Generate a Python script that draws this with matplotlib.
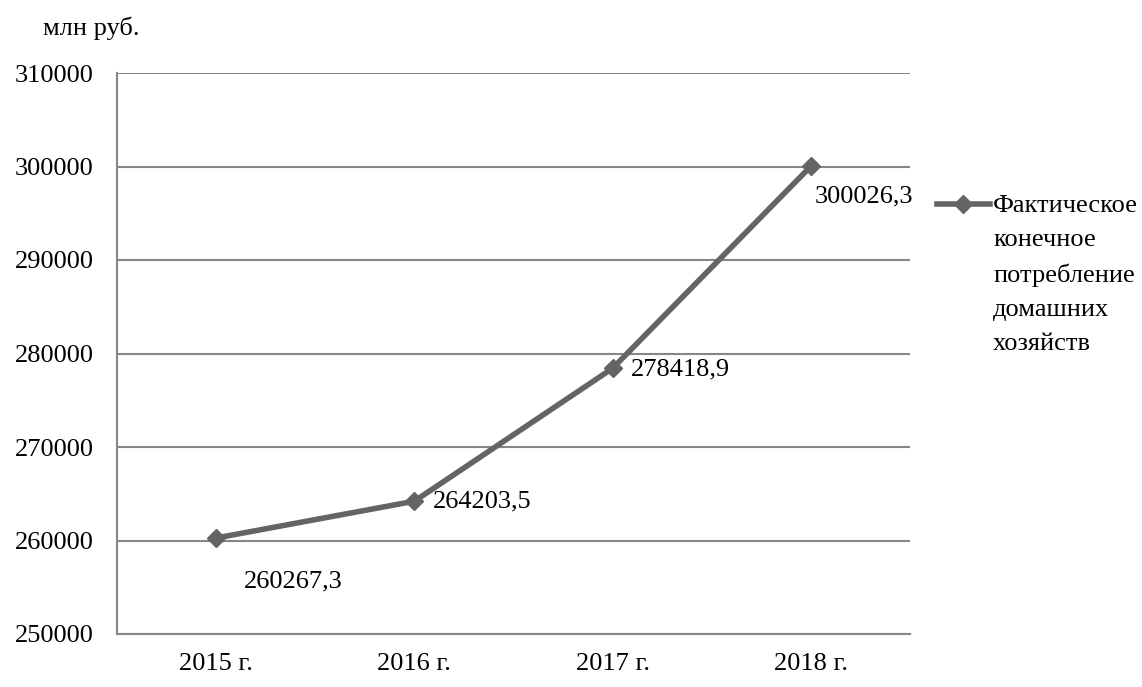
import matplotlib.pyplot as plt
from matplotlib.lines import Line2D

plt.rcParams['font.family'] = ['Liberation Serif', 'DejaVu Serif']

years = ['2015 г.', '2016 г.', '2017 г.', '2018 г.']
values = [260267.3, 264203.5, 278418.9, 300026.3]
value_labels = ['260267,3', '264203,5', '278418,9', '300026,3']
series_name = 'Фактическое\nконечное\nпотребление\nдомашних\nхозяйств'

line_col = '#646464'
grid_col = '#868686'
fs = 19

fig = plt.figure(figsize=(11.42, 6.87), dpi=100)
ax = fig.add_axes([117/1142, 1-634/687, (910-117)/1142, (634-73)/687])

x = list(range(len(years)))
ax.plot(x, values, color=line_col, lw=4, marker='D', ms=9, zorder=3)

# data labels (Excel style)
offsets = [(20, -31), (13, 0), (13, -1), (3, -22)]
for xi, v, lab, off in zip(x, values, value_labels, offsets):
    ax.annotate(lab, (xi, v), xytext=off, textcoords='offset points',
                fontsize=fs, va='center', ha='left')

ax.set_xlim(-0.5, 3.5)
ax.set_ylim(250000, 310000)
ax.set_yticks(range(250000, 310001, 10000))
ax.set_xticks(x)
ax.set_xticklabels(years)
ax.yaxis.grid(True, color=grid_col, lw=1.5)
ax.set_axisbelow(True)
for s in ['top', 'right']:
    ax.spines[s].set_visible(False)
for s in ['left', 'bottom']:
    ax.spines[s].set_color(grid_col)
    ax.spines[s].set_linewidth(1.5)
ax.tick_params(length=0, labelsize=fs, pad=17)
ax.tick_params(axis='x', pad=14)

fig.text(43/1142, 1-28/687, 'млн руб.', fontsize=fs, va='center', ha='left')

# legend
fig.add_artist(Line2D([937/1142, 990/1142], [1-204/687, 1-204/687], color=line_col,
                      lw=4, transform=fig.transFigure))
fig.add_artist(Line2D([963/1142], [1-204/687], color=line_col, marker='D', ms=9,
                      transform=fig.transFigure))
fig.text(993/1142, 1-195/687, series_name, fontsize=fs, va='top', ha='left',
         linespacing=1.7)

plt.savefig('out.png')
